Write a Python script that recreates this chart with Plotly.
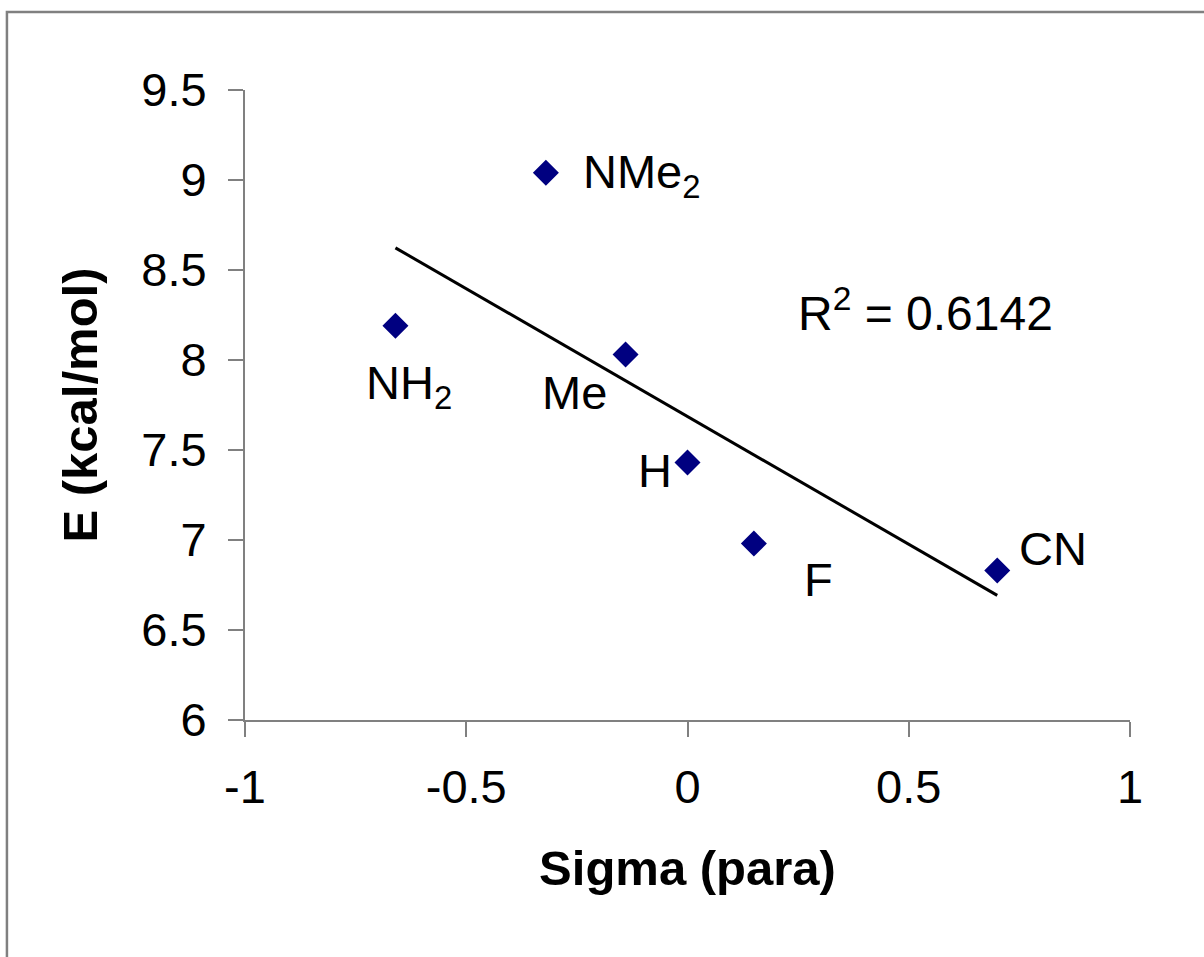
import numpy as np
import plotly.graph_objects as go

# Data
substituents = ["NMe<sub>2</sub>", "NH<sub>2</sub>", "Me", "H", "F", "CN"]
sigma_para = [-0.32, -0.66, -0.14, 0.0, 0.15, 0.70]
energy = [9.04, 8.19, 8.03, 7.43, 6.98, 6.83]
r_squared_text = "R<sup>2</sup> = 0.6142"
x_ticks = [-1, -0.5, 0, 0.5, 1]
x_tick_labels = ["-1", "-0.5", "0", "0.5", "1"]
y_ticks = [6, 6.5, 7, 7.5, 8, 8.5, 9, 9.5]
y_tick_labels = ["6", "6.5", "7", "7.5", "8", "8.5", "9", "9.5"]

# label placement offsets in pixels (style)
label_offsets = [(35, -2, "left"), (14, -60, "center"), (-51, -38, "center"),
                 (-33, -8, "center"), (65, -36, "center"), (56, 22, "center")]

FONT = "Liberation Sans, Arial, sans-serif"

slope, intercept = np.polyfit(sigma_para, energy, 1)
x_fit = [min(sigma_para), max(sigma_para)]
y_fit = [slope * v + intercept for v in x_fit]

fig = go.Figure()
fig.add_trace(go.Scatter(x=x_fit, y=y_fit, mode="lines",
                         line=dict(color="black", width=3), showlegend=False,
                         hoverinfo="skip"))
fig.add_trace(go.Scatter(x=sigma_para, y=energy, mode="markers",
                         marker=dict(symbol="diamond", size=20, color="#000080"),
                         showlegend=False))

for name, xv, yv, (dx, dy, anc) in zip(substituents, sigma_para, energy, label_offsets):
    fig.add_annotation(x=xv, y=yv, text=name, showarrow=False,
                       xanchor=anc, yanchor="middle", xshift=dx, yshift=dy,
                       font=dict(family=FONT, size=47, color="black"))

fig.add_annotation(x=0.537, y=8.278, text=r_squared_text, showarrow=False,
                   xanchor="center", yanchor="middle",
                   font=dict(family=FONT, size=48, color="black"))

axis_common = dict(showgrid=False, zeroline=False, showline=True, linecolor="#808080",
                   linewidth=2, ticks="outside", ticklen=15, tickwidth=2,
                   tickcolor="#808080", tickfont=dict(family=FONT, size=47, color="black"))

fig.update_xaxes(range=[-1, 1], tickvals=x_ticks, ticktext=x_tick_labels,
                 title=dict(text="<b>Sigma (para)</b>", font=dict(family=FONT, size=49, color="black"),
                            standoff=38),
                 ticklabelstandoff=10, **axis_common)
fig.update_yaxes(range=[6, 9.5], tickvals=y_ticks, ticktext=y_tick_labels,
                 title=dict(text="<b>E (kcal/mol)</b>", font=dict(family=FONT, size=49, color="black"),
                            standoff=28),
                 ticklabelstandoff=12, **axis_common)

fig.add_shape(type="rect", xref="paper", yref="paper", x0=-0.269, y0=-0.6, x1=1.2, y1=1.1238,
              line=dict(color="#808080", width=2.5), fillcolor="rgba(0,0,0,0)", layer="below")

fig.update_layout(width=1204, height=957, margin=dict(l=245, r=74, t=90, b=237, autoexpand=False),
                  paper_bgcolor="white", plot_bgcolor="white",
                  font=dict(family=FONT, color="black"))

fig.write_html("out.html")
